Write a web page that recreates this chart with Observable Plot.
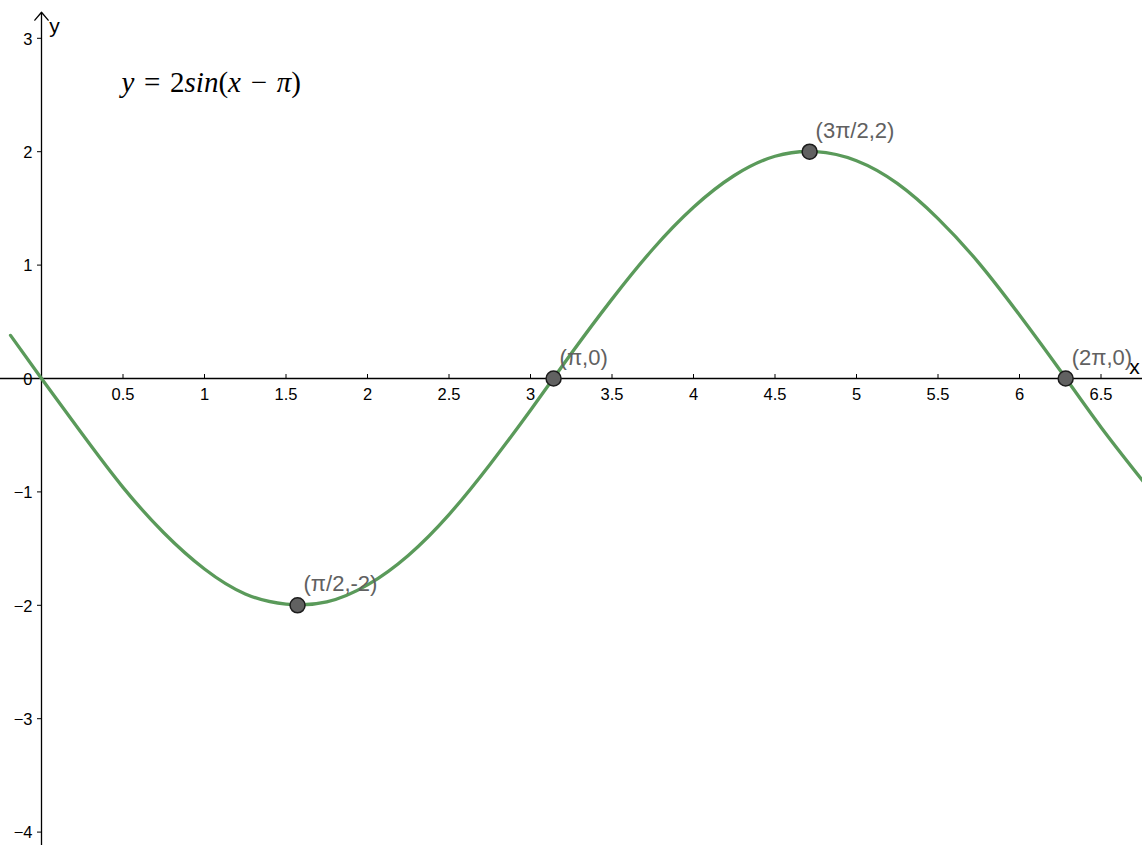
<!DOCTYPE html>
<html>
<head>
<meta charset="utf-8">
<script src="https://cdn.jsdelivr.net/npm/d3@7"></script>
<script src="https://cdn.jsdelivr.net/npm/@observablehq/plot@0.6"></script>
<style>
  html, body { margin: 0; padding: 0; background: #fff; }
  #chart svg { display: block; }
</style>
</head>
<body>
<div id="chart"></div>
<script>
// Sampled curve y = 2 sin(x − π)
const curveX = [-0.19, 0, 0.25, 0.5, 0.75, 1.0, 1.25, 1.5, 1.75, 2.0, 2.25, 2.5, 2.75, 3.0, 3.25, 3.5, 3.75, 4.0, 4.25, 4.5, 4.75, 5.0, 5.25, 5.5, 5.75, 6.0, 6.25, 6.5, 6.76];
const curveY = [0.38, 0, -0.49, -0.96, -1.36, -1.68, -1.90, -1.99, -1.97, -1.82, -1.56, -1.20, -0.76, -0.28, 0.22, 0.70, 1.14, 1.51, 1.79, 1.96, 2.00, 1.92, 1.72, 1.41, 1.02, 0.56, 0.07, -0.43, -0.91];

// Marked points
const pointX = [Math.PI / 2, Math.PI, 3 * Math.PI / 2, 2 * Math.PI];
const pointY = [-2, 0, 2, 0];
const pointLabels = ["(π/2,-2)", "(π,0)", "(3π/2,2)", "(2π,0)"];

// Tick values
const xTicks = [0.5, 1, 1.5, 2, 2.5, 3, 3.5, 4, 4.5, 5, 5.5, 6, 6.5];
const xTickLabels = ["0.5", "1", "1.5", "2", "2.5", "3", "3.5", "4", "4.5", "5", "5.5", "6", "6.5"];
const yTicks = [-4, -3, -2, -1, 0, 1, 2, 3];
const yTickLabels = ["−4", "−3", "−2", "−1", "0", "1", "2", "3"];

const curve = curveX.map((x, i) => ({x, y: curveY[i]}));
const points = pointX.map((x, i) => ({x, y: pointY[i], label: pointLabels[i]}));

const W = 1142, H = 845;
const xDomain = [-41 / 163, (W - 41) / 163];
const yDomain = [-(H - 378) / 113.4, 378 / 113.4];

const sans = "Liberation Sans, Arial, sans-serif";
const equation = "y = 2sin(x − π)";

const chart = Plot.plot({
  width: W,
  height: H,
  margin: 0,
  x: {domain: xDomain, axis: null},
  y: {domain: yDomain, axis: null},
  marks: [
    // x axis
    Plot.ruleY([0], {x1: xDomain[0], x2: xDomain[1], stroke: "#000", strokeWidth: 1.3}),
    // y axis with arrow at the top
    Plot.arrow([{x: 0}], {x1: 0, x2: 0, y1: yDomain[0], y2: 3.23, stroke: "#000", strokeWidth: 1.3, headLength: 12, headAngle: 80}),
    // tick marks
    Plot.ruleX(xTicks, {x: d => d, y1: 0, y2: 0.035, stroke: "#000", strokeWidth: 1}),
    Plot.ruleY(yTicks.filter(d => d !== 0), {y: d => d, x1: -4 / 163, x2: 0, stroke: "#000", strokeWidth: 1}),
    // tick labels
    Plot.text(xTicks, {x: d => d, y: 0, text: (d, i) => xTickLabels[i], dy: 16, fontSize: "16.5px", fontFamily: sans, fill: "#000"}),
    Plot.text(yTicks, {x: 0, y: d => d, text: (d, i) => yTickLabels[i], dx: -9, dy: 1, textAnchor: "end", fontSize: "16.5px", fontFamily: sans, fill: "#000"}),
    // axis names
    Plot.text(["y"], {x: 0, y: yDomain[1], text: d => d, dx: 13, dy: 26, fontSize: 21, fontFamily: sans, fill: "#000"}),
    Plot.text(["x"], {x: xDomain[1], y: 0, text: d => d, dx: -8, dy: -11, fontSize: 21, fontFamily: sans, fill: "#000"}),
    // curve
    Plot.line(curve, {x: "x", y: "y", curve: "natural", stroke: "#5a9a5a", strokeWidth: 3.3}),
    // points and their labels
    Plot.dot(points, {x: "x", y: "y", r: 7.5, fill: "#616161", stroke: "#1c1c1c", strokeWidth: 1.5}),
    Plot.text(points, {x: "x", y: "y", text: "label", dx: 6, dy: -21, textAnchor: "start", fontSize: 22, fontFamily: sans, fill: "#616161"}),
    // equation
    Plot.text([equation], {frameAnchor: "top-left", dx: 121, dy: 71, text: d => d, textAnchor: "start", fontSize: 29, fontFamily: "Liberation Serif, DejaVu Serif, serif", fill: "#000"})
  ]
});

document.getElementById("chart").appendChild(chart);

// Typeset the equation: italic variables, upright digits and operators
d3.select(chart).selectAll("text").each(function () {
  if (this.textContent === equation) {
    const t = d3.select(this);
    const parts = [["y", true], ["\u2004=\u2004", false], ["2", false], ["sin", true], ["(", false], ["x", true], ["\u2004−\u2004", false], ["π", true], [")", false]];
    const target = t.select("tspan").empty() ? t : t.select("tspan");
    target.text(null);
    parts.forEach(([s, it]) => target.append("tspan").attr("font-style", it ? "italic" : "normal").text(s));
  }
});
</script>
</body>
</html>
